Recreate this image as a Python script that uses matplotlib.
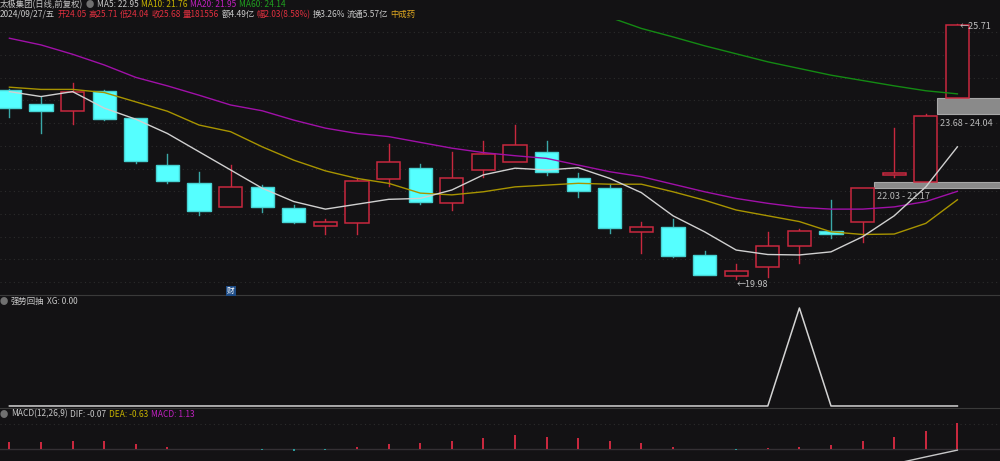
import matplotlib
matplotlib.use('Agg')
import matplotlib.pyplot as plt
import numpy as np
from matplotlib.lines import Line2D
from matplotlib.patches import Rectangle

nan = np.nan
# ---------------- data ----------------
opens = [24.23, 23.91, 23.76, 24.21, 23.59, 22.54, 22.13, 21.60, 22.05, 21.57, 21.18, 21.24, 22.22, 22.47, 21.68, 22.43,
         22.62, 22.83, 22.26, 22.02, 21.04, 21.14, 20.53, 20.04, 20.24, 20.71, 21.06, 21.27, 22.32, 22.17, 24.05]
highs = [24.25, 24.08, 24.38, 24.22, 23.59, 22.79, 22.38, 22.54, 22.09, 21.64, 21.33, 22.24, 23.01, 22.56, 22.84, 23.08,
         23.44, 23.09, 22.37, 22.11, 21.27, 21.32, 20.61, 20.32, 21.04, 21.10, 21.75, 22.03, 23.38, 23.68, 25.71]
lows = [23.62, 23.27, 23.46, 23.55, 22.58, 22.13, 21.42, 21.60, 21.48, 21.24, 20.99, 20.99, 22.07, 21.67, 21.53, 22.28,
        22.60, 22.32, 21.83, 21.02, 20.57, 20.48, 20.07, 19.98, 20.03, 20.35, 20.89, 20.82, 22.28, 22.17, 24.04]
closes = [23.82, 23.76, 24.18, 23.57, 22.63, 22.19, 21.51, 22.05, 21.60, 21.25, 21.25, 22.18, 22.60, 21.70, 22.26, 22.79,
          22.99, 22.38, 21.96, 21.12, 21.14, 20.50, 20.07, 20.17, 20.71, 21.06, 20.99, 22.03, 22.37, 23.65, 25.68]

ma5 = [24.19, 24.08, 24.19, 23.82, 23.57, 23.25, 22.84, 22.43, 22.02, 21.72, 21.55, 21.66, 21.77, 21.79, 21.98, 22.32,
       22.47, 22.43, 22.48, 22.24, 21.92, 21.40, 21.04, 20.63, 20.53, 20.52, 20.59, 20.93, 21.40, 22.05, 22.95]
ma10 = [24.29, 24.24, 24.24, 24.17, 23.96, 23.75, 23.44, 23.29, 22.95, 22.65, 22.41, 22.24, 22.13, 21.91, 21.87, 21.94,
        22.05, 22.09, 22.13, 22.11, 22.11, 21.94, 21.75, 21.53, 21.40, 21.27, 21.04, 20.98, 20.99, 21.23, 21.76]
ma20 = [25.39, 25.24, 25.03, 24.79, 24.51, 24.32, 24.11, 23.89, 23.76, 23.55, 23.37, 23.25, 23.18, 23.05, 22.92, 22.82,
        22.75, 22.69, 22.54, 22.39, 22.28, 22.11, 21.94, 21.79, 21.68, 21.59, 21.55, 21.55, 21.60, 21.72, 21.95]
ma60 = [nan] * 19 + [25.86, 25.61, 25.42, 25.22, 25.04, 24.86, 24.71, 24.56, 24.44, 24.32, 24.21, 24.14]

gap_left_idx = [27, 29]
gap_lo = [22.03, 23.68]
gap_hi = [22.17, 24.04]

xg = [0] * 25 + [1] + [0] * 5

macd = [0.29, 0.29, 0.35, 0.32, 0.19, 0.09, -0.03, -0.04, -0.05, -0.10, -0.06, 0.07, 0.22, 0.24, 0.33, 0.46,
        0.58, 0.53, 0.46, 0.32, 0.23, 0.07, -0.04, -0.05, 0.01, 0.07, 0.14, 0.33, 0.50, 0.77, 1.13]
dif = [nan] * 28 + [-0.68, -0.37, -0.07]
dea_last = -0.63

# ---------------- style ----------------
BG = '#131214'
RED = '#c8283e'
CYAN = '#55ffff'
CYAN_EDGE = '#46d2d2'
CYAN_WICK = '#3aa8a8'
FONT = ['Noto Sans CJK SC', 'DejaVu Sans']
plt.rcParams['font.family'] = FONT

W, H = 1000, 461
fig = plt.figure(figsize=(W / 100, H / 100), dpi=100, facecolor=BG)
renderer = fig.canvas.get_renderer()


def rect(x0, y0, x1, y1):
    return [x0 / W, 1 - y1 / H, (x1 - x0) / W, (y1 - y0) / H]


def text_row(y, items, size=6.0, gap=2.5):
    """items: (ref_x, string, color); place left to right without overlaps."""
    prev_end = -1e9
    for rx, s, col in items:
        xx = max(rx, prev_end + gap)
        t = fig.text(xx / W, 1 - y / H, s, color=col, fontsize=size, va='center', ha='left', family=FONT)
        bb = t.get_window_extent(renderer=renderer)
        prev_end = bb.x1


n = len(closes)
x = np.arange(n)
XL = (-9.4 / 31.6, (W - 9.4) / 31.6)

# ---------------- main panel ----------------
ax1 = fig.add_axes(rect(0, 20, W, 295))
ax1.set_facecolor(BG)
ax1.set_xlim(*XL)
ax1.set_ylim(25.71 - (295 - 24) / 44.5, 25.71 + 4 / 44.5)
ax1.axis('off')

for k in range(12):
    ypx = 32.3 + 22.7 * k
    ax1.plot([0, 1], [(295 - ypx) / 275] * 2, transform=ax1.transAxes, color='#2c2c2c',
             lw=0.8, ls=(0, (1, 3)), zorder=0)

# gap bands
for gi, lo, hi in zip(gap_left_idx, gap_lo, gap_hi):
    ax1.add_patch(Rectangle((gi + 0.37, lo), XL[1] - gi, hi - lo, facecolor='#8a8a8a',
                            edgecolor='#a8a8a8', lw=0.8, zorder=1))
    ax1.annotate(f'{lo:.2f} - {hi:.2f}', xy=(gi + 0.40, lo), xytext=(1, -3), textcoords='offset points',
                 color='#b8b8b8', fontsize=6.5, va='top', ha='left', zorder=6)

bw = 0.73
for i in range(n):
    o, h, l, c = opens[i], highs[i], lows[i], closes[i]
    up = c >= o
    top, bot = max(o, c), min(o, c)
    wc = RED if up else CYAN_WICK
    ax1.plot([i, i], [top, h], color=wc, lw=1, zorder=2)
    ax1.plot([i, i], [l, bot], color=wc, lw=1, zorder=2)
    if up:
        ax1.add_patch(Rectangle((i - bw / 2, bot), bw, top - bot, facecolor=BG, edgecolor=RED, lw=1.1, zorder=3))
    else:
        ax1.add_patch(Rectangle((i - bw / 2, bot), bw, max(top - bot, 0.03), facecolor=CYAN,
                                edgecolor=CYAN_EDGE, lw=1.0, zorder=3))

ax1.plot(x, ma20, color='#a010a8', lw=1.0, zorder=4)
ax1.plot(x, ma10, color='#a89400', lw=1.0, zorder=4)
ax1.plot(x, ma5, color='#d0d0d0', lw=1.0, zorder=5)
ax1.plot(x, ma60, color='#138a13', lw=1.0, zorder=4)

ax1.annotate(f'←{highs[-1]:.2f}', xy=(n - 1, highs[-1]), xytext=(2, -1.5), textcoords='offset points',
             color='#c0c0c0', fontsize=6.5, va='center', ha='left', zorder=6)
imin = int(np.argmin(lows))
ax1.annotate(f'←{lows[imin]:.2f}', xy=(imin, lows[imin]), xytext=(0, -4), textcoords='offset points',
             color='#c0c0c0', fontsize=6.5, va='center', ha='left', zorder=6)

fig.text(231 / W, 1 - 291 / H, '财', color='white', fontsize=5.5, ha='center', va='center', family=FONT,
         bbox=dict(boxstyle='square,pad=0.12', fc='#1e4c86', ec='none'))

# ---------------- XG panel ----------------
ax2 = fig.add_axes(rect(0, 296, W, 408))
ax2.set_facecolor(BG)
ax2.set_xlim(*XL)
ax2.set_ylim(-0.0206, 1.122)
ax2.axis('off')
ax2.plot(x, xg, color='#d4d4d4', lw=1.1)

# ---------------- MACD panel ----------------
ax3 = fig.add_axes(rect(0, 409, W, 461))
ax3.set_facecolor(BG)
ax3.set_xlim(*XL)
ax3.set_ylim(-0.552, 1.752)
ax3.axis('off')
ax3.axhline(0, color='#343034', lw=1.0, zorder=1)
ax3.plot([0, 1], [0.706, 0.706], transform=ax3.transAxes, color='#2c2c2c', lw=0.8, ls=(0, (1, 3)))
mcol = [RED if v >= 0 else '#2a9c9c' for v in macd]
ax3.bar(x, macd, width=0.065, color=mcol, zorder=2)
ax3.plot(x, dif, color='#c8c8c8', lw=1.0, zorder=3)

# separators
fig.add_artist(Line2D([0, 1], [1 - 295 / H] * 2, color='#3a3a3a', lw=0.8))
fig.add_artist(Line2D([0, 1], [1 - 408.3 / H] * 2, color='#3a3a3a', lw=0.8))

# ---------------- header texts ----------------
GRAY = '#c8c8c8'
ICON = '#707070'
RT = '#e0303f'
text_row(4.5, [
    (0, '太极集团(日线,前复权)', GRAY),
    (83, '●', ICON),
    (95, f'MA5: {ma5[-1]:.2f}', GRAY),
    (139, f'MA10: {ma10[-1]:.2f}', '#c8b400'),
    (190, f'MA20: {ma20[-1]:.2f}', '#c020c0'),
    (237, f'MA60: {ma60[-1]:.2f}', '#20a020'),
])
text_row(14.5, [
    (0, '2024/09/27/五', GRAY),
    (52, f'开{opens[-1]:.2f}', RT),
    (84, f'高{highs[-1]:.2f}', RT),
    (117, f'低{lows[-1]:.2f}', RT),
    (150, f'收{closes[-1]:.2f}', RT),
    (183, '量181556', RT),
    (212, '额4.49亿', GRAY),
    (249, '幅2.03(8.58%)', RT),
    (306, '换3.26%', GRAY),
    (338, '流通5.57亿', GRAY),
    (384, '中成药', '#e0a820'),
], gap=2.0)
text_row(301.5, [
    (0, '●', ICON),
    (8, '强势回抽', GRAY),
    (45, f'XG: {xg[-1]:.2f}', GRAY),
])
text_row(414, [
    (0, '●', ICON),
    (9, 'MACD(12,26,9)', GRAY),
    (69, f'DIF: {dif[-1]:.2f}', GRAY),
    (107, f'DEA: {dea_last:.2f}', '#c8b400'),
    (151, f'MACD: {macd[-1]:.2f}', '#c020c0'),
])

fig.savefig('out.png', dpi=100, facecolor=BG)
